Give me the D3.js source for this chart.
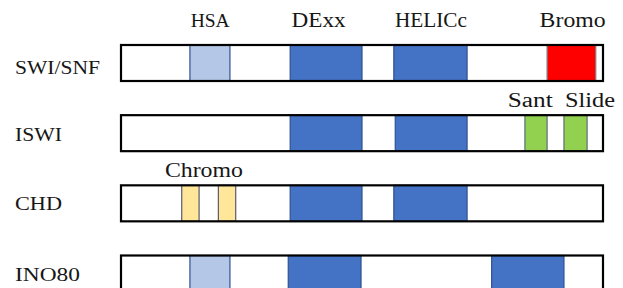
<!DOCTYPE html>
<html><head><meta charset="utf-8">
<script src="https://cdn.jsdelivr.net/npm/d3@7"></script>
<style>body{margin:0;background:#fff}svg{display:block}</style>
</head><body><svg id="c" width="623" height="288"></svg>
<script>
// Proteins (rows) and their domains, positions on a 0–1000 length scale
const proteins = ["SWI/SNF", "ISWI", "CHD", "INO80"];
const domainProtein = ["SWI/SNF","SWI/SNF","SWI/SNF","SWI/SNF","ISWI","ISWI","ISWI","ISWI","CHD","CHD","CHD","CHD","INO80","INO80","INO80"];
const domainType    = ["HSA","DExx","HELICc","Bromo","DExx","HELICc","Sant","Slide","Chromo","Chromo","DExx","HELICc","HSA","DExx","HELICc"];
const domainStart   = [143, 351, 566, 884, 351, 569, 838, 919, 126, 202, 351, 566, 143, 347, 769];
const domainEnd     = [226, 500, 718, 985, 500, 718, 884, 967, 162, 238, 500, 718, 226, 498, 919];
// Domain labels: text, row they sit above, centre position
const labelText  = ["HSA", "DExx", "HELICc", "Bromo", "Sant", "Slide", "Chromo"];
const labelRow   = ["SWI/SNF","SWI/SNF","SWI/SNF","SWI/SNF","ISWI","ISWI","CHD"];
const labelPos   = [185, 410, 643, 937, 849, 973, 172];

const fills = {HSA:"#b4c7e7", DExx:"#4472c4", HELICc:"#4472c4", Bromo:"#ff0000", Sant:"#92d050", Slide:"#92d050", Chromo:"#ffe699"};
const strokes = {HSA:"#2f528f", DExx:"#2f528f", HELICc:"#2f528f", Bromo:"#7f7f7f", Sant:"#5a6e78", Slide:"#5a6e78", Chromo:"#5a5a6e"};
const labelW = {HSA:39, DExx:54, HELICc:72, Bromo:66, Sant:45, Slide:50, Chromo:78};
const rowLabelW = {"SWI/SNF":85, "ISWI":47, "CHD":47, "INO80":65};
const rowLabelDy = {"SWI/SNF":29, "ISWI":26, "CHD":24.5, "INO80":25};
const FONT = "'Liberation Serif', 'DejaVu Serif', 'Times New Roman', serif";

const svg = d3.select("#c");
const x = d3.scaleLinear().domain([0, 1000]).range([121, 603]);
const y = d3.scalePoint().domain(proteins).range([45, 255.5]);
const H = 36;

const domains = domainType.map((t, i) => ({type: t, protein: domainProtein[i], s: domainStart[i], e: domainEnd[i]}));

// row labels
svg.selectAll("text.row").data(proteins).join("text")
  .attr("class","row")
  .attr("font-family", FONT).attr("fill", "#161616")
  .attr("x", 15).attr("y", d => y(d) + rowLabelDy[d])
  .attr("font-size", 19)
  .attr("textLength", d => rowLabelW[d]).attr("lengthAdjust","spacingAndGlyphs")
  .text(d => d);

// backbone boxes (white fill)
svg.selectAll("rect.bg").data(proteins).join("rect")
  .attr("class","bg")
  .attr("x", x(0)).attr("y", d => y(d)).attr("width", x(1000) - x(0)).attr("height", H)
  .attr("fill","#fff");

// domains
svg.selectAll("rect.dom").data(domains).join("rect")
  .attr("class","dom")
  .attr("x", d => x(d.s)).attr("y", d => y(d.protein))
  .attr("width", d => x(d.e) - x(d.s)).attr("height", H)
  .attr("fill", d => fills[d.type]).attr("stroke", d => strokes[d.type]).attr("stroke-width", 1.2);

// outlines
svg.selectAll("rect.box").data(proteins).join("rect")
  .attr("class","box")
  .attr("x", x(0)).attr("y", d => y(d)).attr("width", x(1000) - x(0)).attr("height", H)
  .attr("fill","none").attr("stroke","#000").attr("stroke-width", 2.2);

// domain labels
const labels = labelText.map((t, i) => ({t, row: labelRow[i], p: labelPos[i]}));
svg.selectAll("text.lab").data(labels).join("text")
  .attr("class","lab")
  .attr("font-family", FONT).attr("fill", "#161616")
  .attr("x", d => x(d.p)).attr("text-anchor","middle")
  .attr("y", d => d.row === "SWI/SNF" ? y(d.row) - 18.5 : y(d.row) - 8.5)
  .attr("font-size", d => d.t === "HSA" ? 18.5 : 20)
  .attr("textLength", d => labelW[d.t]).attr("lengthAdjust","spacingAndGlyphs")
  .text(d => d.t);
</script></body></html>
